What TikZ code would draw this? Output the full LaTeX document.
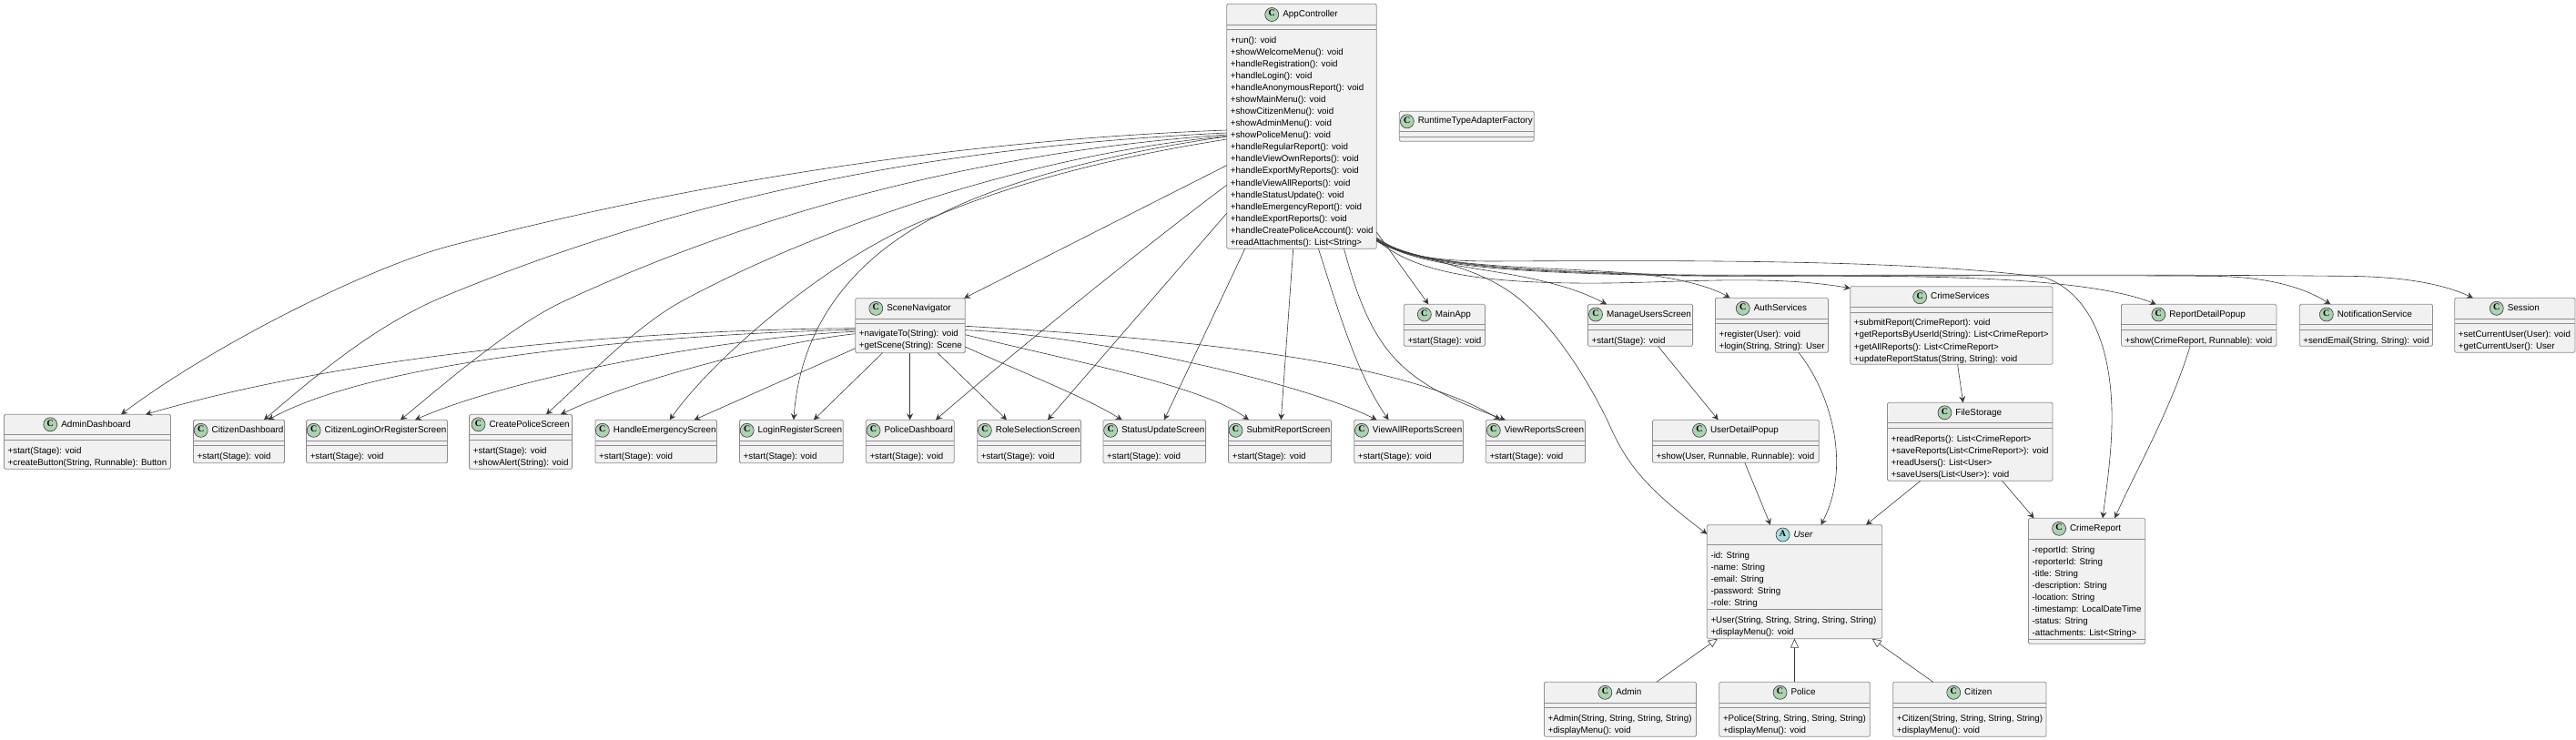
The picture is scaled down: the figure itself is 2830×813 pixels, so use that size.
\documentclass[tikz,border=0pt]{standalone}
\usepackage{fontspec}
\setmainfont{Liberation Sans}
\newfontfamily\spotfont{Liberation Serif}
\usetikzlibrary{positioning,arrows.meta}

\definecolor{boxfill}{HTML}{F1F1F1}
\definecolor{boxline}{HTML}{8E8E8E}
\definecolor{inkline}{HTML}{383838}
\definecolor{spotgreen}{HTML}{ADD1B2}
\definecolor{spotblue}{HTML}{A9DCDF}

\tikzset{
	classbox/.style={draw=boxline,fill=boxfill,line width=.8pt,rounded corners=1.5pt,inner sep=0pt,outer sep=0pt},
	compart/.style={draw=boxline,line width=.8pt},
	classtitle/.style={inner sep=0pt,text height=7.6pt,text depth=2.2pt,font=\fontsize{9.9}{12}\selectfont},
	members/.style={inner sep=0pt,anchor=north west,align=left,font=\fontsize{9.75}{13.07}\selectfont},
	spotC/.style={circle,draw=inkline,fill=spotgreen,line width=.6pt,minimum size=15pt,inner sep=0pt,font=\spotfont\bfseries\fontsize{10}{10}\selectfont},
	spotA/.style={spotC,fill=spotblue},
	dep/.style={draw=inkline,line width=.6pt,-{Stealth[length=7pt,width=7pt,inset=2.5pt]}},
	gen/.style={draw=inkline,line width=.6pt,-{Triangle[open,length=10pt,width=9pt,fill=white]}},
}

% name, left, top, right, bottom, first line, title, spot letter
\newcommand{\umlhead}[8]{
	\node[classbox,minimum width={#4-#2},minimum height={#5-#3}] (#1) at ({(#2+#4)/2},{(#3+#5)/2}) {};
	\draw[compart] (#2,#6) -- (#4,#6);
	\node[classtitle] (#1-title) at ({(#2+#4)/2+9.5},{(#3+#6)/2}) {#7};
	\node[spot#8,left=4pt of #1-title] (#1-spot) {\strut #8};
}
% name suffix, left, y of the section's top, text
\newcommand{\umlmembers}[4]{
	\node[members] (#1) at (#2+4,#3+5.7) {\rule{0pt}{9pt}#4};
}
% name, left, top, right, bottom, line 1, line 2, title, members
\newcommand{\umlclass}[9]{
	\umlhead{#1}{#2}{#3}{#4}{#5}{#6}{#8}{C}
	\draw[compart] (#2,#7) -- (#4,#7);
	\umlmembers{#1-members}{#2}{#7}{#9}
}

\begin{document}
\begin{tikzpicture}[x=1pt,y=-1pt]
	\useasboundingbox (0,0) rectangle (2830,813);

	\umlclass{AppController}{1347.7}{4.3}{1512.3}{273.3}{27.7}{32.3}{AppController}{+run(): void\\+showWelcomeMenu(): void\\+handleRegistration(): void\\+handleLogin(): void\\+handleAnonymousReport(): void\\+showMainMenu(): void\\+showCitizenMenu(): void\\+showAdminMenu(): void\\+showPoliceMenu(): void\\+handleRegularReport(): void\\+handleViewOwnReports(): void\\+handleExportMyReports(): void\\+handleViewAllReports(): void\\+handleStatusUpdate(): void\\+handleEmergencyReport(): void\\+handleExportReports(): void\\+handleCreatePoliceAccount(): void\\+readAttachments(): List<String>}
	\umlhead{RuntimeFactory}{1537.3}{122.3}{1685.3}{155.3}{144.3}{RuntimeTypeAdapterFactory}{C}
	\draw[compart] (1537.3,150.3) -- (1685.3,150.3);
	\umlclass{SceneNavigator}{939.7}{327.7}{1060.3}{387.7}{350}{355}{SceneNavigator}{+navigateTo(String): void\\+getScene(String): Scene}

	% screens along the bottom row
	\umlclass{AdminDashboard}{4.5}{455.3}{187.5}{515.3}{477.3}{483.3}{AdminDashboard}{+start(Stage): void\\+createButton(String, Runnable): Button}
	\umlclass{CitizenDashboard}{212.5}{461.3}{312.5}{508.7}{484.3}{489.3}{CitizenDashboard}{+start(Stage): void}
	\umlclass{CitizenLogin}{336.6}{461.3}{491.5}{508.7}{484.3}{489.3}{CitizenLoginOrRegisterScreen}{+start(Stage): void}
	\umlclass{CreatePolice}{515.6}{455.3}{628.6}{515.3}{477.3}{483.3}{CreatePoliceScreen}{+start(Stage): void\\+showAlert(String): void}
	\umlclass{HandleEmergency}{654}{461.3}{787.5}{508.7}{484.3}{489.3}{HandleEmergencyScreen}{+start(Stage): void}
	\umlclass{LoginRegister}{812.5}{461.3}{926.3}{508.7}{484.3}{489.3}{LoginRegisterScreen}{+start(Stage): void}
	\umlclass{PoliceDashboard}{951.3}{461.3}{1048.2}{508.7}{484.3}{489.3}{PoliceDashboard}{+start(Stage): void}
	\umlclass{RoleSelection}{1073.7}{461.3}{1187.5}{508.7}{484.3}{489.3}{RoleSelectionScreen}{+start(Stage): void}
	\umlclass{StatusUpdate}{1212}{461.3}{1324.6}{508.7}{484.3}{489.3}{StatusUpdateScreen}{+start(Stage): void}
	\umlclass{SubmitReport}{1349.6}{461.3}{1462.4}{508.7}{484.3}{489.3}{SubmitReportScreen}{+start(Stage): void}
	\umlclass{ViewAllReports}{1487.7}{461.3}{1607.5}{508.7}{484.3}{489.3}{ViewAllReportsScreen}{+start(Stage): void}
	\umlclass{ViewReports}{1632.3}{461.3}{1741.6}{508.7}{484.3}{489.3}{ViewReportsScreen}{+start(Stage): void}

	% services
	\umlclass{MainApp}{1542.3}{334.3}{1631.4}{380.3}{356.7}{362.3}{MainApp}{+start(Stage): void}
	\umlclass{ManageUsers}{1744.4}{334.3}{1859.6}{380.3}{356.7}{362.3}{ManageUsersScreen}{+start(Stage): void}
	\umlclass{AuthServices}{1884.4}{327.3}{2008.4}{387.3}{350.3}{355.3}{AuthServices}{+register(User): void\\+login(String, String): User}
	\umlclass{CrimeServices}{2032.7}{314.7}{2255}{400.3}{337.7}{343}{CrimeServices}{+submitReport(CrimeReport): void\\+getReportsByUserId(String): List<CrimeReport>\\+getAllReports(): List<CrimeReport>\\+updateReportStatus(String, String): void}
	\umlclass{ReportDetail}{2330.4}{334.3}{2500.9}{380.3}{356.7}{362.3}{ReportDetailPopup}{+show(CrimeReport, Runnable): void}
	\umlclass{Notification}{2526.2}{334.3}{2672.4}{380.3}{356.7}{362.3}{NotificationService}{+sendEmail(String, String): void}
	\umlclass{Session}{2696.7}{327.3}{2829}{387.3}{350.3}{355.3}{Session}{+setCurrentUser(User): void\\+getCurrentUser(): User}
	\umlclass{UserDetail}{1815.5}{461.3}{1998.3}{508.3}{484.3}{489.3}{UserDetailPopup}{+show(User, Runnable, Runnable): void}
	\umlclass{FileStorage}{2073.5}{442.3}{2255}{528.3}{464.3}{470.3}{FileStorage}{+readReports(): List<CrimeReport>\\+saveReports(List<CrimeReport>): void\\+readUsers(): List<User>\\+saveUsers(List<User>): void}

	% user model
	\umlhead{User}{1875.3}{576.7}{2067.7}{701.7}{598.3}{\itshape User}{A}
	\draw[compart] (1875.3,669.3) -- (2067.7,669.3);
	\umlmembers{User-fields}{1875.3}{598.3}{-id: String\\-name: String\\-email: String\\-password: String\\-role: String}
	\umlmembers{User-methods}{1875.3}{669.3}{+User(String, String, String, String, String)\\+displayMenu(): void}
	\umlclass{Admin}{1696.4}{749.3}{1863.4}{809.3}{772.3}{777.3}{Admin}{+Admin(String, String, String, String)\\+displayMenu(): void}
	\umlclass{Police}{1888.8}{749.3}{2054.3}{809.3}{772.3}{777.3}{Police}{+Police(String, String, String, String)\\+displayMenu(): void}
	\umlclass{Citizen}{2079.7}{749.3}{2248}{809.3}{772.3}{777.3}{Citizen}{+Citizen(String, String, String, String)\\+displayMenu(): void}
	\umlhead{CrimeReport}{2228.5}{569.3}{2356.7}{707.3}{592.3}{CrimeReport}{C}
	\draw[compart] (2228.5,702.3) -- (2356.7,702.3);
	\umlmembers{CrimeReport-fields}{2228.5}{592.3}{-reportId: String\\-reporterId: String\\-title: String\\-description: String\\-location: String\\-timestamp: LocalDateTime\\-status: String\\-attachments: List<String>}

	% AppController, left side
	\draw[dep] (AppController.west |- 0,143) .. controls (1100,152) and (800,190) .. (495,270) .. controls (410,292) and (240,375) .. (133,0 |- AdminDashboard.north);
	\draw[dep] (AppController.west |- 0,146) .. controls (1100,158) and (800,195) .. (480,329) .. controls (410,360) and (350,410) .. (290,0 |- CitizenDashboard.north);
	\draw[dep] (AppController.west |- 0,148) .. controls (1100,165) and (850,225) .. (624,329) .. controls (565,355) and (490,420) .. (440,0 |- CitizenLogin.north);
	\draw[dep] (AppController.west |- 0,149.5) .. controls (1130,170) and (900,250) .. (751.8,329.3) .. controls (700,357) and (650,410) .. (600,0 |- CreatePolice.north);
	\draw[dep] (AppController.west |- 0,153) .. controls (1240,170) and (1130,195) .. (1030,236.7) .. controls (930,270) and (790,385) .. (735.7,0 |- HandleEmergency.north);
	\draw[dep] (AppController.west |- 0,150) .. controls (1240,165) and (1110,195) .. (1030,236.7) .. controls (945,280) and (880,350) .. (871.9,0 |- LoginRegister.north);
	\draw[dep] (AppController.west |- 0,181.7) -- (1059,0 |- SceneNavigator.north);
	\draw[dep] (AppController.west |- 0,203.3) .. controls (1265,265) and (1110,390) .. (1028,0 |- PoliceDashboard.north);
	\draw[dep] (AppController.west |- 0,234.3) -- (1151,0 |- RoleSelection.north);

	% AppController, bottom side
	\draw[dep] (1367.7,0 |- AppController.south) -- (1279,0 |- StatusUpdate.north);
	\draw[dep] (1420.7,0 |- AppController.south) -- (1407.3,0 |- SubmitReport.north);
	\draw[dep] (1448.4,0 |- AppController.south) .. controls (1470,340) and (1490,410) .. (1525.5,0 |- ViewAllReports.north);
	\draw[dep] (1476.5,0 |- AppController.south) .. controls (1508,390) and (1540,420) .. (1653.8,0 |- ViewReports.north);

	% AppController, right side
	\draw[dep] (AppController.east |- 0,255) -- (1569.3,0 |- MainApp.north);
	\draw[dep] (AppController.east |- 0,262) .. controls (1540,282) and (1600,285) .. (1650,315) .. controls (1700,345) and (1740,410) .. (1765,460) .. controls (1785,505) and (1800,530) .. (User.west |- 0,586.7);
	\draw[dep] (AppController.east |- 0,262.5) .. controls (1560,300) and (1680,290) .. (1765,0 |- ManageUsers.north);
	\draw[dep] (AppController.east |- 0,263) .. controls (1560,295) and (1680,292) .. (1790,300) .. controls (1840,304) and (1880,315) .. (1900.5,0 |- AuthServices.north);
	\draw[dep] (AppController.east |- 0,263.5) .. controls (1560,305) and (1650,312) .. (1767,311) .. controls (1850,310) and (1950,302) .. (CrimeServices.west |- 0,316.7);
	\draw[dep] (AppController.east |- 0,261) .. controls (1540,280) and (1570,287) .. (1640,287) .. controls (1850,286) and (2100,285) .. (2246.7,305) .. controls (2290,320) and (2318,370) .. (2320,450) .. controls (2321,490) and (2315,530) .. (2310,0 |- CrimeReport.north);
	\draw[dep] (AppController.east |- 0,264) .. controls (1560,295) and (1680,300) .. (1850,303) .. controls (2000,305) and (2270,295) .. (2368.7,0 |- ReportDetail.north);
	\draw[dep] (AppController.east |- 0,264.5) .. controls (1560,293) and (1680,299) .. (1850,302.5) .. controls (2050,304) and (2250,302) .. (2427,303.3) .. controls (2480,303.5) and (2525,312) .. (2560.3,0 |- Notification.north);
	\draw[dep] (AppController.east |- 0,265) .. controls (1560,292) and (1680,298) .. (1850,302) .. controls (2100,303) and (2350,301) .. (2567,303.3) .. controls (2630,303) and (2680,310) .. (2716.8,0 |- Session.north);

	% SceneNavigator
	\draw[dep] (SceneNavigator.west |- 0,360.7) .. controls (720,362) and (400,385) .. (160,0 |- AdminDashboard.north);
	\draw[dep] (SceneNavigator.west |- 0,362.3) .. controls (750,366) and (420,392) .. (294.6,0 |- CitizenDashboard.north);
	\draw[dep] (SceneNavigator.west |- 0,364.3) .. controls (800,370) and (560,415) .. (456,0 |- CitizenLogin.north);
	\draw[dep] (SceneNavigator.west |- 0,366.7) .. controls (860,375) and (700,415) .. (616,0 |- CreatePolice.north);
	\draw[dep] (SceneNavigator.west |- 0,382.7) -- (762.5,0 |- HandleEmergency.north);
	\draw[dep] (969.6,0 |- SceneNavigator.south) -- (894,0 |- LoginRegister.north);
	\draw[dep] (999.6,0 |- SceneNavigator.south) -- (999.6,0 |- PoliceDashboard.north);
	\draw[dep] (1030,0 |- SceneNavigator.south) -- (1106,0 |- RoleSelection.north);
	\draw[dep] (SceneNavigator.east |- 0,381) .. controls (1120,408) and (1190,435) .. (1232.6,0 |- StatusUpdate.north);
	\draw[dep] (SceneNavigator.east |- 0,367.7) .. controls (1170,395) and (1320,423) .. (1371.9,0 |- SubmitReport.north);
	\draw[dep] (SceneNavigator.east |- 0,362.7) .. controls (1200,368) and (1430,420) .. (1512.5,0 |- ViewAllReports.north);
	\draw[dep] (SceneNavigator.east |- 0,358.3) .. controls (1300,372) and (1540,395) .. (1648,0 |- ViewReports.north);

	% services and model
	\draw[dep] (1821.5,0 |- ManageUsers.south) -- (1887.6,0 |- UserDetail.north);
	\draw[dep] (1916.8,0 |- UserDetail.south) -- (1945,0 |- User.north);
	\draw[dep] (1976,0 |- AuthServices.south) .. controls (2010,430) and (2035,510) .. (2000.5,0 |- User.north);
	\draw[dep] (2150.6,0 |- CrimeServices.south) -- (2156.6,0 |- FileStorage.north);
	\draw[dep] (2109.8,0 |- FileStorage.south) -- (2050,0 |- User.north);
	\draw[dep] (2199.6,0 |- FileStorage.south) -- (2234.5,0 |- CrimeReport.north);
	\draw[dep] (2406,0 |- ReportDetail.south) .. controls (2385,450) and (2345,520) .. (2323.2,0 |- CrimeReport.north);
	\draw[gen] (1819.9,0 |- Admin.north) -- (1886.8,0 |- User.south);
	\draw[gen] (1971.5,0 |- Police.north) -- (1971.5,0 |- User.south);
	\draw[gen] (2123.7,0 |- Citizen.north) -- (2056.7,0 |- User.south);
\end{tikzpicture}
\end{document}
